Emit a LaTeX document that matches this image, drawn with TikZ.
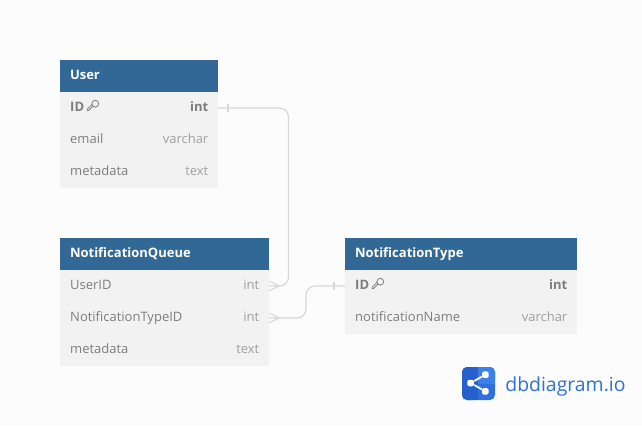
\documentclass[tikz,border=0pt]{standalone}
\usepackage{fontspec}
\setmainfont{Open Sans}
\usepackage{xcolor}
\usetikzlibrary{positioning}
\definecolor{pagebg}{HTML}{FCFCFC}
\definecolor{headblue}{HTML}{316896}
\definecolor{rowgray}{HTML}{F2F2F2}
\definecolor{fieldgray}{HTML}{7D7D7D}
\definecolor{typegray}{HTML}{A0A0A0}
\definecolor{linkgray}{HTML}{D6D6D6}
\definecolor{logoblue}{HTML}{2F70DC}
\definecolor{logodark}{HTML}{2560CC}
\definecolor{logolight}{HTML}{3B80EA}
\begin{document}
\begin{tikzpicture}[
    x=1pt, y=-1pt,
    head/.style={rectangle, fill=headblue, text=white, anchor=north west, minimum height=32pt, inner sep=0pt, outer sep=0pt, text height=9pt, text depth=3pt, align=left, font=\fontsize{13}{15}\selectfont\bfseries},
    row/.style={rectangle, fill=rowgray, minimum height=32pt, inner sep=0pt, outer sep=0pt},
    field/.style={inner sep=0pt, text=fieldgray, text height=9pt, text depth=3pt, font=\fontsize{13}{15}\selectfont},
    pkfield/.style={field, font=\fontsize{13}{15}\selectfont\bfseries},
    sqltype/.style={field, text=typegray},
    pktype/.style={pkfield},
    link/.style={draw=linkgray, line width=1.1pt},
    logonode/.style={rectangle, rounded corners=1.5pt, fill=white, minimum size=6.5pt, inner sep=0pt},
    key/.pic={\draw [fieldgray, line width=.8pt] (2.8,-2.8) circle (3.4) (.6,-.6) -- (-4,4) -- (-5.2,4) -- (-5.2,2.6) -- (-.8,-1.8);}
  ]
    \fill [pagebg] (0,0) rectangle (642,426);
    \useasboundingbox (0,0) rectangle (642,426);

    % User
    \node (user_head) [head, minimum width=158pt, text width=138pt] at (60,60) {User};
    \node (user_id) [row, minimum width=158pt, below=0pt of user_head] {};
    \node (user_email) [row, minimum width=158pt, below=0pt of user_id] {};
    \node (user_meta) [row, minimum width=158pt, below=0pt of user_email] {};
    \node (user_id_name) [pkfield, right=10pt of user_id.west] {ID};
    \node (user_id_type) [pktype, left=9.5pt of user_id.east] {int};
    \node (user_email_name) [field, right=10pt of user_email.west] {email};
    \node (user_email_type) [sqltype, left=9.5pt of user_email.east] {varchar};
    \node (user_meta_name) [field, right=10pt of user_meta.west] {metadata};
    \node (user_meta_type) [sqltype, left=9.5pt of user_meta.east] {text};
    \pic at (92.5,106.5) {key};

    % NotificationQueue
    \node (queue_head) [head, minimum width=209pt, text width=189pt] at (60,238) {NotificationQueue};
    \node (queue_user) [row, minimum width=209pt, below=0pt of queue_head] {};
    \node (queue_type) [row, minimum width=209pt, below=0pt of queue_user] {};
    \node (queue_meta) [row, minimum width=209pt, below=0pt of queue_type] {};
    \node (queue_user_name) [field, right=10pt of queue_user.west] {UserID};
    \node (queue_user_type) [sqltype, left=9.5pt of queue_user.east] {int};
    \node (queue_type_name) [field, right=10pt of queue_type.west] {NotificationTypeID};
    \node (queue_type_type) [sqltype, left=9.5pt of queue_type.east] {int};
    \node (queue_meta_name) [field, right=10pt of queue_meta.west] {metadata};
    \node (queue_meta_type) [sqltype, left=9.5pt of queue_meta.east] {text};

    % NotificationType
    \node (ntype_head) [head, minimum width=232pt, text width=212pt] at (345,238) {NotificationType};
    \node (ntype_id) [row, minimum width=232pt, below=0pt of ntype_head] {};
    \node (ntype_name) [row, minimum width=232pt, below=0pt of ntype_id] {};
    \node (ntype_id_name) [pkfield, right=10pt of ntype_id.west] {ID};
    \node (ntype_id_type) [pktype, left=9.5pt of ntype_id.east] {int};
    \node (ntype_name_name) [field, right=10pt of ntype_name.west] {notificationName};
    \node (ntype_name_type) [sqltype, left=9.5pt of ntype_name.east] {varchar};
    \pic at (377.5,284.5) {key};

    % relations
    \coordinate (user_trunk) at (288.5,108);
    \coordinate (ntype_elbow) at (306,286);
    \draw [link, rounded corners=9pt] (user_id.east) -- (user_trunk) -- (user_trunk |- queue_user.east) -- (queue_user.east);
    \draw [link, rounded corners=9pt] (queue_type.east) -- (ntype_elbow |- queue_type.east) -- (ntype_elbow) -- (ntype_id.west);
    \draw [link] (user_id.east) ++(10,-4) -- ++(0,8);
    \draw [link] (ntype_id.west) ++(-11,-4) -- ++(0,8);
    \draw [link] (queue_user.east) ++(10,0) -- ++(-10,-5) ++(10,5) -- ++(-10,5);
    \draw [link] (queue_type.east) ++(10,0) -- ++(-10,-5) ++(10,5) -- ++(-10,5);

    % logo
    \node (logo_box) [rectangle, rounded corners=5pt, fill=logoblue, minimum width=33pt, minimum height=33pt, inner sep=0pt] at (478.5,383.5) {};
    \fill [logodark, rounded corners=5pt] (477.5,367) -- (462,367) -- (462,400) -- (477.5,400) -- cycle;
    \fill [logodark] (472,367) rectangle (477.5,400);
    \fill [logolight, rounded corners=5pt] (477.5,367) -- (495,367) -- (495,383.5) -- (477.5,383.5) -- cycle;
    \fill [logolight] (477.5,367) rectangle (485,383.5);
    \fill [logolight] (477.5,378) rectangle (495,383.5);
    \node (logo_text) [right=10pt of logo_box, yshift=-2.5pt, inner sep=0pt, text=logoblue, font=\fontsize{19.4}{24}\selectfont] {dbdiagram.io};
    \node (logo_hub) [logonode] at (470.7,383) {};
    \node (logo_top) [logonode] at (485.3,374.7) {};
    \node (logo_low) [logonode] at (485.3,391.3) {};
    \draw [white, line width=1.8pt] (logo_top) -- (logo_hub) -- (logo_low);
  \end{tikzpicture}
\end{document}
